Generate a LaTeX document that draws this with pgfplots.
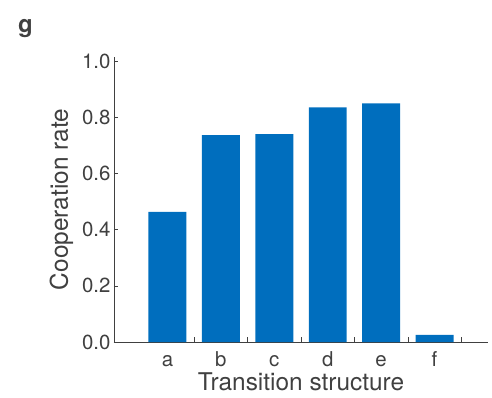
\documentclass[border=0pt]{standalone}
\usepackage{pgfplots}
\pgfplotsset{compat=1.18}
\usepackage{fontspec}
\setmainfont{TeX Gyre Heros}
\definecolor{barblue}{RGB}{0,110,190}
\definecolor{axisgray}{RGB}{64,64,64}

\begin{document}
\begin{tikzpicture}[x=1bp,y=1bp]
\useasboundingbox (-114,-55) rectangle (378,342);
\begin{axis}[
  at={(0,0)}, anchor=origin,
  scale only axis,
  width=374bp, height=285bp,
  xmin=0, xmax=7,
  ymin=0, ymax=1.015,
  axis x line=bottom, axis y line=left,
  axis line style={-, axisgray, line width=0.7pt},
  every tick/.style={axisgray, line width=0.6pt},
  xtick={1,2,3,4,5,6},
  xticklabels={a,b,c,d,e,f},
  major x tick style={draw=none},
  minor xtick={1.5,2.5,3.5,4.5,5.5,6.5},
  minor tick length=5bp,
  ytick={0,0.2,0.4,0.6,0.8,1.0},
  major tick length=4bp,
  yticklabel style={/pgf/number format/.cd, fixed, fixed zerofill, precision=1},
  /pgf/number format/assume math mode=true,
  tick label style={font=\fontsize{20.5}{23}\selectfont, text=axisgray},
  xticklabel style={anchor=base, yshift=-24.5bp},
  label style={font=\fontsize{24.5}{28}\selectfont, text=axisgray},
  xlabel={Transition structure},
  ylabel={Cooperation rate},
  xlabel style={at={(axis description cs:0.5,0)}, anchor=base, yshift=-48.5bp},
  ylabel style={at={(axis description cs:0,0.5)}, anchor=base, yshift=46bp},
  tick align=inside,
  clip=false,
]
\addplot[ybar, bar width=0.71, fill=barblue, draw=none] coordinates {
  (1,0.463) (2,0.737) (3,0.740) (4,0.836) (5,0.850) (6,0.025)
};
\end{axis}
\node[anchor=base west, inner sep=0pt, font=\fontsize{24}{28}\selectfont\bfseries, text=axisgray] at (-96,310) {g};
\end{tikzpicture}
\end{document}
